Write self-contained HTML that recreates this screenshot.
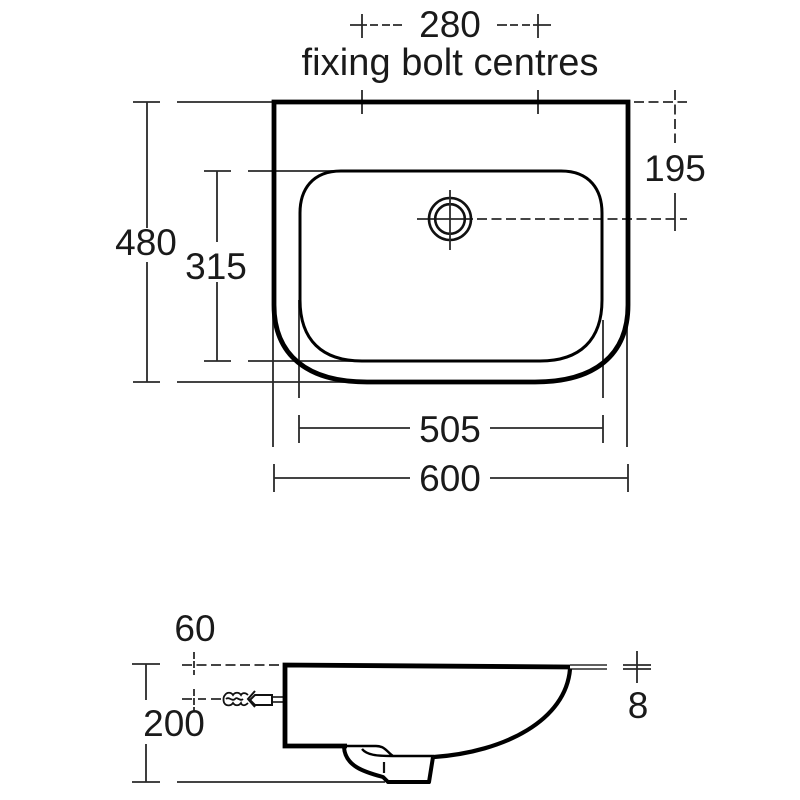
<!DOCTYPE html>
<html><head><meta charset="utf-8"><style>
html,body{margin:0;padding:0;background:#fff}
svg{display:block}
text{font-family:"Liberation Sans",Arial,sans-serif;font-size:37px;fill:#1a1a1a;text-anchor:middle}
</style></head><body>
<svg width="800" height="800" viewBox="0 0 800 800" xmlns="http://www.w3.org/2000/svg" fill="none" stroke-linecap="butt">
<rect width="800" height="800" fill="#fff"/>
<!-- thin dimension lines -->
<g stroke="#2a2a2a" stroke-width="1.800">
<path d="M147 102V228M147 262V382M133 102H160M133 382H160M177 102H274M177 382H345"/>
<path d="M217 171V242M217 282V361M204 171H231M204 361H231M248 171H340M248 361H360"/>
<path d="M273 310V447M299 300V398"/>
<path d="M299 428H410M490 428H603M299 415V443M603 415V443"/>
<path d="M274 478H410M490 478H628M274 464V492M628 464V492"/>
<path d="M627 320V447M603 320V398"/>
<path d="M362 90V114M538 90V114"/>
<path d="M146 664V700M146 744V782M132 664H160M132 782H160M177 782H385"/>
<path d="M623 665H651M623 669H651M637 651V683"/>
<path d="M570 665H607M570 669H607" stroke-width="1.500"/>
<path d="M272 697H285M272 702H285"/>
</g>
<!-- dashed lines -->
<g stroke="#2a2a2a" stroke-width="1.800">
<path d="M350 25H367M362 14V38M370 25H378M382 25H390M393 25H402M497 25H507M510 25H518M522 25H530M533 25H551M538 14V38"/>
<path d="M634 102H687M675 90V143" stroke-dasharray="10 4.500"/>
<path d="M417 219H473"/>
<path d="M477 219H687" stroke-dasharray="10 4.500"/>
<path d="M675 193V231"/>
<path d="M182 665H280" stroke-dasharray="10 4.500"/>
<path d="M194 652V675" stroke-dasharray="7 2"/>
<path d="M182 699H192M198 699H206M211 699H221"/>
<path d="M194 689V711" stroke-dasharray="7 2"/>
</g>
<!-- waste -->
<circle cx="450" cy="219" r="21" stroke="#111" stroke-width="2.600"/>
<circle cx="450" cy="219" r="14.800" stroke="#111" stroke-width="2.600"/>
<path d="M450 190V250" stroke="#2a2a2a" stroke-width="1.800"/>
<!-- basin plan -->
<path d="M274 102H628V305C628 355 595 382 535 382H367C307 382 274 355 274 305Z" stroke="#000" stroke-width="4.800"/>
<path d="M341 171H561C590 171 602 190 602 213V300C602 340 580 361 540 361H362C322 361 300 340 300 300V213C300 190 312 171 341 171Z" stroke="#000" stroke-width="3"/>
<!-- section -->
<path d="M570 667L285 665V746H347" stroke="#000" stroke-width="4.800"/>
<path d="M570 669C566 720 505 752 434 757" stroke="#000" stroke-width="4.200"/>
<path d="M433 757L429 782H388L383 777C364 772 345 766 344 747" stroke="#000" stroke-width="4" stroke-linejoin="round"/>
<path d="M347 746H376C385 746 387 752 393 756H434M362 749C367 755 376 756 393 756" stroke="#000" stroke-width="2.400"/>
<path d="M384 762V773" stroke="#111" stroke-width="2.200"/>
<!-- plug -->
<path d="M272 695H255L250 700 255 705H272ZM255 691L248 699 255 707" stroke="#111" stroke-width="2"/>
<path d="M248 695C245 692 242 693 241 695C239 692 235 692 233 695C231 692 227 692 225 695C223 697 223 702 225 704C227 706 231 706 233 703C235 706 239 706 241 703C242 706 245 706 248 703M226 699C229 696 232 702 235 699C237 696 240 702 243 699" stroke="#111" stroke-width="1.800"/>
<!-- labels -->
<text x="450" y="37">280</text>
<text x="450" y="75" style="font-size:38px" textLength="297" lengthAdjust="spacing">fixing bolt centres</text>
<text x="146" y="255">480</text>
<text x="216" y="279">315</text>
<text x="675" y="181">195</text>
<text x="450" y="442">505</text>
<text x="450" y="491">600</text>
<text x="195" y="641">60</text>
<text x="174" y="736">200</text>
<text x="638" y="718">8</text>
</svg>
</body></html>
